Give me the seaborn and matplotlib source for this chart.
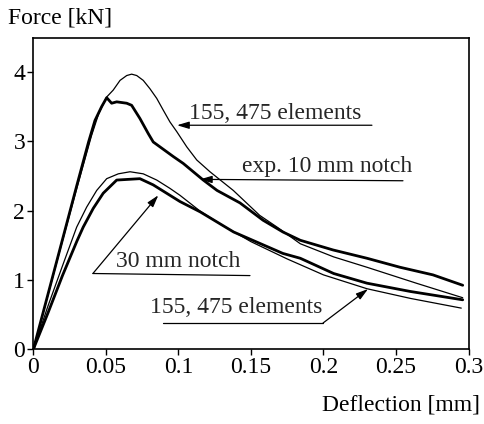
import matplotlib
matplotlib.use("Agg")
import matplotlib.pyplot as plt
import seaborn as sns
import pandas as pd

# ---- data ----
fe10_x = [0, 0.010, 0.020, 0.030, 0.040, 0.045, 0.0505, 0.055, 0.0597, 0.0643, 0.0677,
          0.0712, 0.0757, 0.0803, 0.085, 0.0895, 0.0941, 0.0988, 0.1057, 0.1126, 0.1217,
          0.1378, 0.156, 0.168, 0.184, 0.207, 0.230, 0.264, 0.296]
fe10_y = [0, 0.78, 1.56, 2.33, 3.08, 3.40, 3.64, 3.74, 3.88, 3.95, 3.97,
          3.95, 3.88, 3.76, 3.62, 3.45, 3.28, 3.14, 2.92, 2.73, 2.56,
          2.29, 1.93, 1.76, 1.52, 1.33, 1.18, 0.95, 0.74]

exp10_x = [0, 0.010, 0.020, 0.030, 0.038, 0.0424, 0.047, 0.0505, 0.0539, 0.0574, 0.0643,
           0.0677, 0.0734, 0.0792, 0.0826, 0.0872, 0.0964, 0.1033, 0.1171, 0.1266, 0.1424,
           0.1583, 0.172, 0.184, 0.2066, 0.230, 0.2528, 0.2755, 0.296]
exp10_y = [0, 0.79, 1.58, 2.37, 2.99, 3.30, 3.50, 3.63, 3.55, 3.57, 3.55,
           3.52, 3.33, 3.11, 2.99, 2.92, 2.78, 2.68, 2.44, 2.29, 2.11,
           1.86, 1.69, 1.57, 1.43, 1.31, 1.18, 1.07, 0.92]

fe30_x = [0, 0.010, 0.020, 0.0298, 0.0367, 0.0436, 0.0505, 0.0585, 0.0666, 0.0757, 0.085,
          0.0941, 0.101, 0.115, 0.130, 0.150, 0.175, 0.200, 0.230, 0.260, 0.295]
fe30_y = [0, 0.62, 1.20, 1.76, 2.05, 2.29, 2.46, 2.53, 2.56, 2.53, 2.44,
          2.32, 2.22, 1.99, 1.79, 1.55, 1.30, 1.07, 0.87, 0.73, 0.59]

exp30_x = [0, 0.010, 0.020, 0.030, 0.0343, 0.0412, 0.0481, 0.0574, 0.0734, 0.0826, 0.0918,
           0.101, 0.115, 0.138, 0.172, 0.184, 0.207, 0.230, 0.260, 0.296]
exp30_y = [0, 0.52, 1.06, 1.56, 1.76, 2.03, 2.25, 2.44, 2.46, 2.37, 2.25,
           2.13, 1.98, 1.69, 1.38, 1.31, 1.09, 0.95, 0.83, 0.71]

x_ticks = [0, 0.05, 0.1, 0.15, 0.2, 0.25, 0.3]
x_tick_labels = ["0", "0.05", "0.1", "0.15", "0.2", "0.25", "0.3"]
y_ticks = [0, 1, 2, 3, 4]
y_tick_labels = ["0", "1", "2", "3", "4"]

sns.set_theme(style="white")
plt.rcParams['font.family'] = ['Liberation Serif', 'DejaVu Serif']
FS = 17

fig = plt.figure(figsize=(4.85, 4.24), dpi=100)
ax = fig.add_axes([0.069, 0.177, 0.897, 0.733])

series = [(fe10_x, fe10_y, 0.9), (exp10_x, exp10_y, 2.0),
          (fe30_x, fe30_y, 0.9), (exp30_x, exp30_y, 2.0)]
for xs, ys, lw in series:
    df = pd.DataFrame({"x": xs, "y": ys})
    sns.lineplot(data=df, x="x", y="y", ax=ax, color="black", linewidth=lw,
                 sort=False, estimator=None)

ax.set_xlim(0, 0.3)
ax.set_ylim(0, 4.49)
ax.set_xticks(x_ticks)
ax.set_xticklabels(x_tick_labels)
ax.set_yticks(y_ticks)
ax.set_yticklabels(y_tick_labels)
ax.tick_params(axis="both", direction="out", length=4, width=1, color="black",
               labelsize=FS, labelcolor="black", pad=2, bottom=True, left=True)
ax.set_xlabel("")
ax.set_ylabel("")
for s in ax.spines.values():
    s.set_color("black")
    s.set_linewidth(1.2)

fig.text(0.016, 0.958, "Force [kN]", fontsize=FS, ha="left", va="center", color="black")
fig.text(0.99, 0.045, "Deflection [mm]", fontsize=FS, ha="right", va="center", color="black")

arrow = dict(arrowstyle="-|>,head_length=0.6,head_width=0.18", color="black",
             lw=0.9, shrinkA=0, shrinkB=0)

# upper "155, 475 elements"
ax.annotate("", xy=(0.0990, 3.232), xytext=(0.2334, 3.232), arrowprops=arrow)
ax.text(0.1666, 3.40, "155, 475 elements", fontsize=FS, ha="center", va="center")

# "exp. 10 mm notch"
ax.annotate("", xy=(0.1148, 2.45), xytext=(0.2548, 2.43), arrowprops=arrow)
ax.text(0.2024, 2.64, "exp. 10 mm notch", fontsize=FS, ha="center", va="center")

# "30 mm notch"
ax.plot([0.1493, 0.041], [1.06, 1.09], color="black", lw=0.9)
ax.annotate("", xy=(0.0861, 2.22), xytext=(0.041, 1.09), arrowprops=arrow)
ax.text(0.0997, 1.27, "30 mm notch", fontsize=FS, ha="center", va="center")

# lower "155, 475 elements"
ax.plot([0.0893, 0.1997], [0.375, 0.375], color="black", lw=0.9)
ax.annotate("", xy=(0.2307, 0.866), xytext=(0.1997, 0.375), arrowprops=arrow)
ax.text(0.1397, 0.606, "155, 475 elements", fontsize=FS, ha="center", va="center")

fig.savefig("out.png", dpi=100, facecolor="white")
